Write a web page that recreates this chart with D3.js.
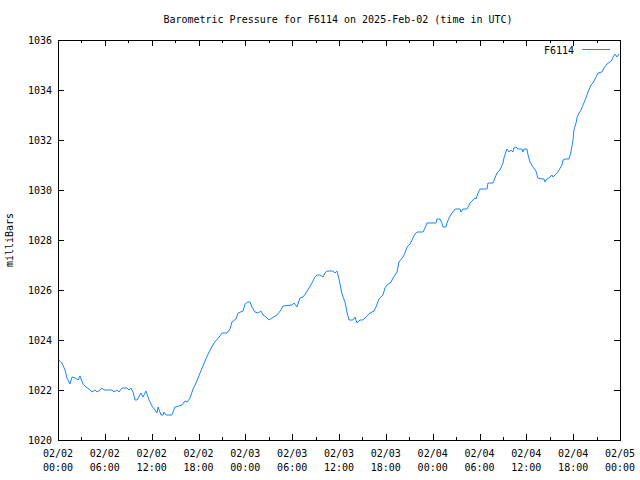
<!DOCTYPE html>
<html>
<head>
<meta charset="utf-8">
<script src="https://cdn.jsdelivr.net/npm/d3@7/dist/d3.min.js"></script>
<style>
  html, body { margin: 0; padding: 0; background: #fff; }
  svg { display: block; }
  text { font-family: "DejaVu Sans Mono", "Liberation Mono", monospace; font-size: 10px; fill: #000; }
</style>
</head>
<body>
<svg id="chart" width="640" height="480"></svg>
<script>
const title = "Barometric Pressure for F6114 on 2025-Feb-02 (time in UTC)";
const seriesName = "F6114";
const yLabel = "milliBars";

const times = [
"2025-02-02 00:05","2025-02-02 00:30","2025-02-02 00:54","2025-02-02 01:09","2025-02-02 01:25","2025-02-02 01:32","2025-02-02 01:48","2025-02-02 02:11","2025-02-02 02:34","2025-02-02 02:49",
"2025-02-02 03:12","2025-02-02 03:35","2025-02-02 03:58","2025-02-02 04:21","2025-02-02 04:44","2025-02-02 05:00","2025-02-02 05:23","2025-02-02 05:38","2025-02-02 05:53","2025-02-02 06:55",
"2025-02-02 07:10","2025-02-02 07:34","2025-02-02 07:49","2025-02-02 08:12","2025-02-02 08:50","2025-02-02 09:06","2025-02-02 09:21","2025-02-02 09:37","2025-02-02 09:52","2025-02-02 10:07",
"2025-02-02 10:38","2025-02-02 10:53","2025-02-02 11:16","2025-02-02 11:40","2025-02-02 12:02","2025-02-02 12:26","2025-02-02 12:41","2025-02-02 12:49","2025-02-02 13:12","2025-02-02 13:27",
"2025-02-02 13:35","2025-02-02 13:50","2025-02-02 14:36","2025-02-02 14:59","2025-02-02 15:30","2025-02-02 15:53","2025-02-02 16:16","2025-02-02 16:32","2025-02-02 16:55","2025-02-02 17:18",
"2025-02-02 17:41","2025-02-02 18:12","2025-02-02 18:50","2025-02-02 19:21","2025-02-02 19:59","2025-02-02 20:45","2025-02-02 21:01","2025-02-02 21:39","2025-02-02 22:02","2025-02-02 22:17",
"2025-02-02 22:48","2025-02-02 23:04","2025-02-02 23:42","2025-02-02 23:58","2025-02-03 00:20","2025-02-03 00:36","2025-02-03 00:51","2025-02-03 01:14","2025-02-03 01:37","2025-02-03 02:00",
"2025-02-03 02:16","2025-02-03 02:39","2025-02-03 03:02","2025-02-03 03:25","2025-02-03 04:03","2025-02-03 04:34","2025-02-03 04:49","2025-02-03 05:59","2025-02-03 06:14","2025-02-03 06:37",
"2025-02-03 07:00","2025-02-03 07:23","2025-02-03 07:46","2025-02-03 08:09","2025-02-03 08:32","2025-02-03 08:55","2025-02-03 09:11","2025-02-03 09:34","2025-02-03 09:57","2025-02-03 10:12",
"2025-02-03 10:28","2025-02-03 11:14","2025-02-03 11:29","2025-02-03 11:44","2025-02-03 12:00","2025-02-03 12:23","2025-02-03 12:46","2025-02-03 13:01","2025-02-03 13:17","2025-02-03 13:47",
"2025-02-03 14:03","2025-02-03 14:18","2025-02-03 14:41","2025-02-03 15:04","2025-02-03 15:35","2025-02-03 15:58","2025-02-03 16:29","2025-02-03 16:44","2025-02-03 17:07","2025-02-03 17:38",
"2025-02-03 17:53","2025-02-03 18:09","2025-02-03 18:40","2025-02-03 18:55","2025-02-03 19:26","2025-02-03 19:41","2025-02-03 20:12","2025-02-03 20:27","2025-02-03 20:43","2025-02-03 21:06",
"2025-02-03 21:29","2025-02-03 21:44","2025-02-03 21:59","2025-02-03 22:46","2025-02-03 23:01","2025-02-03 23:16","2025-02-04 00:26","2025-02-04 00:33","2025-02-04 00:56","2025-02-04 01:11",
"2025-02-04 01:19","2025-02-04 01:42","2025-02-04 01:50","2025-02-04 02:05","2025-02-04 02:29","2025-02-04 02:36","2025-02-04 02:52","2025-02-04 03:30","2025-02-04 03:38","2025-02-04 03:53",
"2025-02-04 04:24","2025-02-04 04:47","2025-02-04 05:10","2025-02-04 05:25","2025-02-04 05:33","2025-02-04 05:49","2025-02-04 06:04","2025-02-04 06:58","2025-02-04 07:05","2025-02-04 07:44",
"2025-02-04 07:59","2025-02-04 08:14","2025-02-04 08:37","2025-02-04 09:01","2025-02-04 09:08","2025-02-04 09:23","2025-02-04 09:31","2025-02-04 09:47","2025-02-04 10:02","2025-02-04 10:17",
"2025-02-04 10:25","2025-02-04 10:40","2025-02-04 10:56","2025-02-04 11:26","2025-02-04 11:34","2025-02-04 11:42","2025-02-04 12:05","2025-02-04 12:13","2025-02-04 12:28","2025-02-04 12:51",
"2025-02-04 13:14","2025-02-04 13:29","2025-02-04 14:01","2025-02-04 14:16","2025-02-04 14:23","2025-02-04 14:39","2025-02-04 14:54","2025-02-04 15:17","2025-02-04 15:25","2025-02-04 15:56",
"2025-02-04 16:11","2025-02-04 16:34","2025-02-04 16:42","2025-02-04 16:57","2025-02-04 17:28","2025-02-04 17:43","2025-02-04 17:59","2025-02-04 18:06","2025-02-04 18:22","2025-02-04 18:29",
"2025-02-04 18:45","2025-02-04 19:00","2025-02-04 19:16","2025-02-04 19:38","2025-02-04 19:54","2025-02-04 20:17","2025-02-04 20:32","2025-02-04 20:48","2025-02-04 21:11","2025-02-04 21:41",
"2025-02-04 21:57","2025-02-04 22:20","2025-02-04 22:43","2025-02-04 22:58","2025-02-04 23:06","2025-02-04 23:22","2025-02-04 23:37","2025-02-04 23:52"
];

const pressure = [
1023.20,1023.08,1022.80,1022.48,1022.32,1022.24,1022.52,1022.48,1022.40,1022.56,
1022.24,1022.12,1022.04,1021.92,1022.00,1021.92,1022.00,1022.08,1022.00,1022.00,
1021.92,1022.00,1021.92,1022.08,1022.08,1022.00,1022.08,1021.92,1021.60,1021.60,
1021.88,1021.72,1021.96,1021.60,1021.36,1021.20,1021.08,1021.32,1021.00,1021.00,
1021.12,1021.00,1021.00,1021.32,1021.36,1021.40,1021.56,1021.52,1021.68,1022.04,
1022.28,1022.68,1023.16,1023.52,1023.88,1024.16,1024.28,1024.28,1024.44,1024.72,
1024.84,1025.08,1025.16,1025.44,1025.52,1025.52,1025.32,1025.12,1025.08,1025.16,
1025.00,1024.92,1024.80,1024.88,1025.00,1025.20,1025.36,1025.40,1025.48,1025.32,
1025.68,1025.72,1025.88,1026.08,1026.28,1026.52,1026.60,1026.60,1026.52,1026.68,
1026.76,1026.76,1026.68,1026.76,1026.44,1025.84,1025.52,1025.12,1024.80,1024.80,
1024.92,1024.68,1024.80,1024.80,1024.96,1025.08,1025.16,1025.32,1025.64,1025.80,
1026.08,1026.20,1026.32,1026.48,1026.72,1027.12,1027.32,1027.48,1027.72,1027.84,
1028.08,1028.24,1028.32,1028.32,1028.48,1028.68,1028.68,1028.84,1028.84,1028.68,
1028.52,1028.52,1028.68,1028.88,1029.08,1029.12,1029.24,1029.24,1029.12,1029.24,
1029.24,1029.48,1029.60,1029.68,1029.64,1029.88,1030.04,1030.04,1030.28,1030.28,
1030.48,1030.68,1030.80,1031.08,1031.28,1031.52,1031.64,1031.52,1031.60,1031.52,
1031.68,1031.72,1031.64,1031.64,1031.52,1031.64,1031.64,1031.40,1031.12,1030.92,
1030.76,1030.48,1030.44,1030.44,1030.32,1030.44,1030.48,1030.60,1030.52,1030.68,
1030.80,1031.00,1031.20,1031.24,1031.24,1031.52,1032.00,1032.40,1032.68,1032.88,
1033.08,1033.20,1033.40,1033.68,1033.92,1034.20,1034.28,1034.44,1034.68,1034.72,
1034.88,1035.04,1035.12,1035.20,1035.32,1035.44,1035.32,1035.44
];

const xDomain = ["2025-02-02 00:00", "2025-02-05 00:00"];
const yDomain = [1020, 1036];
const yTicks = [1020, 1022, 1024, 1026, 1028, 1030, 1032, 1034, 1036];

const parse = d3.utcParse("%Y-%m-%d %H:%M");
const data = times.map((t, i) => ({ t: parse(t), v: pressure[i] }));

const margin = { left: 58, right: 20, top: 40, bottom: 40 };
const W = 640, H = 480;
const svg = d3.select("#chart");

const x = d3.scaleUtc().domain(xDomain.map(parse)).range([margin.left, W - margin.right]);
const y = d3.scaleLinear().domain(yDomain).range([H - margin.bottom, margin.top]);

const majorT = d3.utcHour.every(6).range(x.domain()[0], new Date(+x.domain()[1] + 1));
const minorT = d3.utcHour.every(3).range(x.domain()[0], new Date(+x.domain()[1] + 1)).filter(d => d.getUTCHours() % 6 !== 0);

const fmtDate = d3.utcFormat("%m/%d");
const fmtTime = d3.utcFormat("%H:%M");

// bottom axis (ticks inward)
const gB = svg.append("g").attr("transform", `translate(0,${H - margin.bottom})`)
  .call(d3.axisBottom(x).tickValues(majorT).tickSize(-6).tickFormat(() => ""));
svg.append("g").attr("transform", `translate(0,${H - margin.bottom})`)
  .call(d3.axisBottom(x).tickValues(minorT).tickSize(-3).tickFormat(() => ""));
// top axis
svg.append("g").attr("transform", `translate(0,${margin.top})`)
  .call(d3.axisTop(x).tickValues(majorT).tickSize(-6).tickFormat(() => ""));
svg.append("g").attr("transform", `translate(0,${margin.top})`)
  .call(d3.axisTop(x).tickValues(minorT).tickSize(-3).tickFormat(() => ""));
// left/right axes
svg.append("g").attr("transform", `translate(${margin.left},0)`)
  .call(d3.axisLeft(y).tickValues(yTicks).tickSize(-6).tickFormat(() => ""));
svg.append("g").attr("transform", `translate(${W - margin.right},0)`)
  .call(d3.axisRight(y).tickValues(yTicks).tickSize(-6).tickFormat(() => ""));

svg.selectAll(".domain").remove();
svg.selectAll(".tick line").attr("stroke", "#000").attr("shape-rendering", "crispEdges");

// frame
svg.append("rect")
  .attr("x", margin.left + 0.5).attr("y", margin.top + 0.5)
  .attr("width", W - margin.right - margin.left).attr("height", H - margin.bottom - margin.top)
  .attr("fill", "none").attr("stroke", "#000").attr("shape-rendering", "crispEdges");

// x tick labels (two lines)
const xl = svg.append("g");
majorT.forEach(d => {
  const t = xl.append("text").attr("x", x(d)).attr("text-anchor", "middle");
  t.append("tspan").attr("x", x(d)).attr("y", 457).text(fmtDate(d));
  t.append("tspan").attr("x", x(d)).attr("y", 471).text(fmtTime(d));
});

// y tick labels
svg.append("g").selectAll("text").data(yTicks).join("text")
  .attr("x", 52).attr("y", d => y(d)).attr("dy", "0.35em")
  .attr("text-anchor", "end").text(d => d);

// title
svg.append("text").attr("x", (W) / 2 + 18).attr("y", 23).attr("text-anchor", "middle").text(title);

// y label
svg.append("text").attr("transform", `translate(13,${(margin.top + H - margin.bottom) / 2}) rotate(-90)`)
  .attr("text-anchor", "middle").text(yLabel);

// line
const lineColor = "#1a85ff";
svg.append("path").datum(data)
  .attr("fill", "none").attr("stroke", lineColor).attr("stroke-width", 1)
  .attr("d", d3.line().x(d => x(d.t)).y(d => y(d.v)));

// legend
svg.append("text").attr("x", 574).attr("y", 50).attr("dy", "0.35em").attr("text-anchor", "end").text(seriesName);
svg.append("line").attr("x1", 582).attr("x2", 610).attr("y1", 49.5).attr("y2", 49.5)
  .attr("stroke", lineColor).attr("stroke-width", 1);
</script>
</body>
</html>
